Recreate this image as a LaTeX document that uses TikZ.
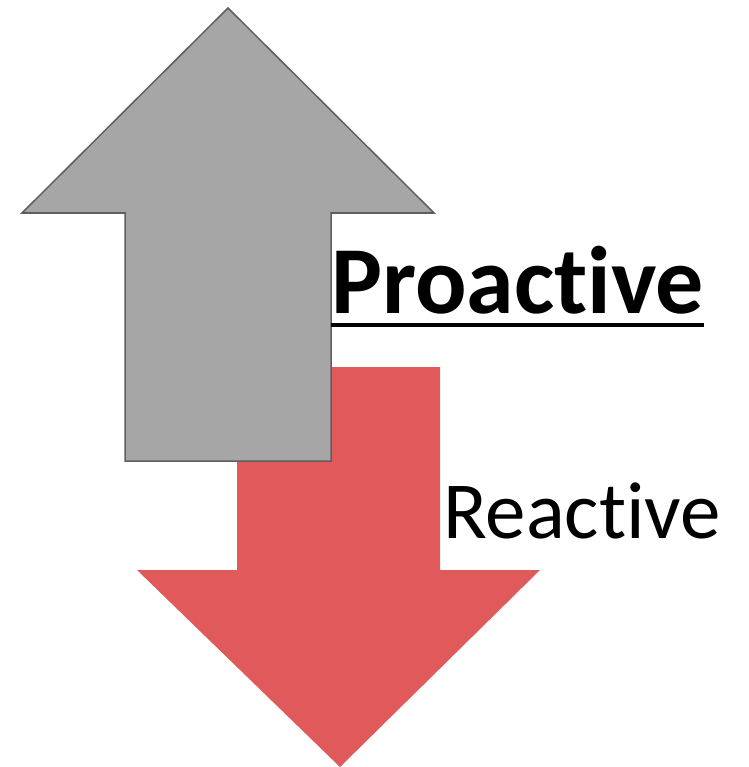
\documentclass[tikz,border=0pt]{standalone}
\usepackage{fontspec}
\setmainfont[Ligatures=NoCommon]{Carlito}
\usetikzlibrary{positioning}
\definecolor{upgray}{HTML}{A6A6A6}
\definecolor{edgegray}{HTML}{5F5F5F}
\definecolor{downred}{HTML}{E05A5B}

\begin{document}
\begin{tikzpicture}[x=1pt,y=-1pt,
  lbl/.style={anchor=base west,inner sep=0pt}]
\useasboundingbox (0,0) rectangle (748,767);
% down arrow
\fill[downred] (237,367) -- (440,367) -- (440,570) -- (540,570) -- (340,767) -- (137,570) -- (237,570) -- cycle;
% up arrow
\draw[fill=upgray,draw=edgegray,line width=1.5pt] (228,8) -- (434,213) -- (331,213) -- (331,461) -- (125,461) -- (125,213) -- (22,213) -- cycle;
\node[lbl,font=\fontsize{96}{96}\selectfont\bfseries] (pro) at (331,313) {Proactive};
\draw[line width=4pt] ([yshift=-12pt]pro.base west) -- ([yshift=-12pt]pro.base east);
\node[lbl,font=\fontsize{81}{81}\selectfont] (re) at (443,538) {Reactive};
\end{tikzpicture}
\end{document}
